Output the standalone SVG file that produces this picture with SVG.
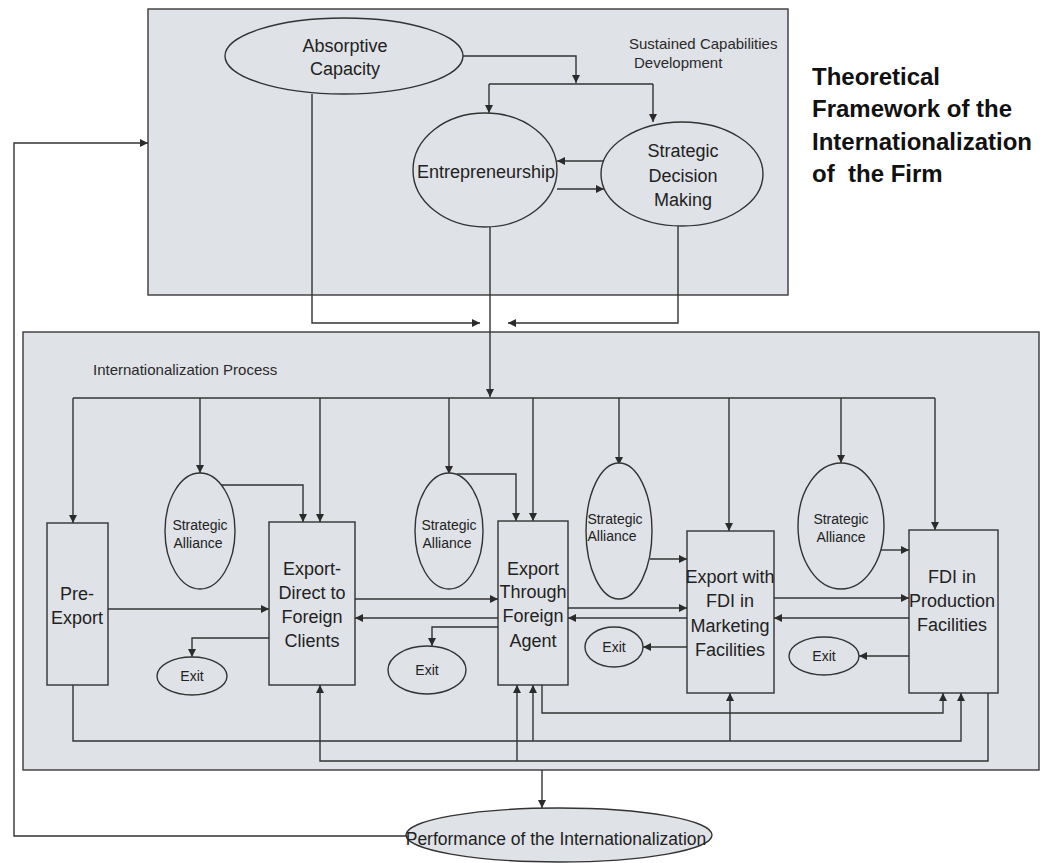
<svg xmlns="http://www.w3.org/2000/svg" width="1044" height="863" viewBox="0 0 1044 863">
<style>
.panel{fill:#dfe2e7;stroke:#3a3a3a;stroke-width:1.4}
.node{fill:#dfe2e7;stroke:#333;stroke-width:1.4}
.c{fill:none;stroke:#333;stroke-width:1.4}
.t{font-family:"Liberation Sans",Arial,sans-serif;fill:#222;text-anchor:middle}
.b{font-size:18px}
.s{font-size:14px}
.l{font-family:"Liberation Sans",Arial,sans-serif;fill:#2a2a2a;font-size:15px}
.title{font-family:"Liberation Sans",Arial,sans-serif;font-weight:bold;font-size:24px;fill:#111}
</style>
<defs>
<marker id="a" viewBox="0 0 10 10" refX="10" refY="5" markerWidth="9" markerHeight="8" orient="auto" markerUnits="userSpaceOnUse">
<path d="M0,0 L10,5 L0,10 z" fill="#2b2b2b"/>
</marker>
</defs>
<rect width="1044" height="863" fill="#ffffff"/>
<g id="panel-top">
<rect class="panel" x="148" y="9" width="640" height="286"/>
<text class="l" x="629" y="49">Sustained Capabilities</text>
<text class="l" x="634" y="68">Development</text>
</g>
<g id="panel-bottom">
<rect class="panel" x="23" y="332" width="1016" height="438"/>
<text class="l" x="93" y="375">Internationalization Process</text>
</g>
<g id="title">
<text class="title" x="812" y="85">Theoretical</text>
<text class="title" x="812" y="117">Framework of the</text>
<text class="title" x="812" y="150">Internationalization</text>
<text class="title" x="812" y="182" xml:space="preserve">of  the Firm</text>
</g>
<g id="connectors">
<path class="c" d="M463,56 H576 V83" marker-end="url(#a)"/>
<path class="c" d="M489,84 H653"/>
<path class="c" d="M489,84 V113" marker-end="url(#a)"/>
<path class="c" d="M653,84 V122" marker-end="url(#a)"/>
<path class="c" d="M604,161 H557" marker-end="url(#a)"/>
<path class="c" d="M557,189 H604" marker-end="url(#a)"/>
<path class="c" d="M312,94 V323 H480" marker-end="url(#a)"/>
<path class="c" d="M678,226 V323 H508" marker-end="url(#a)"/>
<path class="c" d="M490,227 V397" marker-end="url(#a)"/>
<path class="c" d="M73,398 H935"/>
<path class="c" d="M73,398 V523" marker-end="url(#a)"/>
<path class="c" d="M200,398 V473" marker-end="url(#a)"/>
<path class="c" d="M320,398 V522" marker-end="url(#a)"/>
<path class="c" d="M449,398 V474" marker-end="url(#a)"/>
<path class="c" d="M533,398 V521" marker-end="url(#a)"/>
<path class="c" d="M619,398 V465" marker-end="url(#a)"/>
<path class="c" d="M729,398 V531" marker-end="url(#a)"/>
<path class="c" d="M841,398 V463" marker-end="url(#a)"/>
<path class="c" d="M935,398 V530" marker-end="url(#a)"/>
<path class="c" d="M220,485 H303 V522" marker-end="url(#a)"/>
<path class="c" d="M457,474 H516 V521" marker-end="url(#a)"/>
<path class="c" d="M650,559 H687" marker-end="url(#a)"/>
<path class="c" d="M881,550 H909" marker-end="url(#a)"/>
<path class="c" d="M108,609 H269" marker-end="url(#a)"/>
<path class="c" d="M355,599 H498" marker-end="url(#a)"/>
<path class="c" d="M498,618 H355" marker-end="url(#a)"/>
<path class="c" d="M269,638 H192 V657" marker-end="url(#a)"/>
<path class="c" d="M498,627 H432 V646" marker-end="url(#a)"/>
<path class="c" d="M568,608 H687" marker-end="url(#a)"/>
<path class="c" d="M687,618 H568" marker-end="url(#a)"/>
<path class="c" d="M687,647 H643" marker-end="url(#a)"/>
<path class="c" d="M774,598 H909" marker-end="url(#a)"/>
<path class="c" d="M909,618 H774" marker-end="url(#a)"/>
<path class="c" d="M909,656 H859" marker-end="url(#a)"/>
<path class="c" d="M542,685 V713 H943 V693" marker-end="url(#a)"/>
<path class="c" d="M73,685 V741 H961 V693" marker-end="url(#a)"/>
<path class="c" d="M533,741 V685" marker-end="url(#a)"/>
<path class="c" d="M730,741 V693" marker-end="url(#a)"/>
<path class="c" d="M988,693 V761 H320 V685" marker-end="url(#a)"/>
<path class="c" d="M517,761 V685" marker-end="url(#a)"/>
<path class="c" d="M542,770 V808" marker-end="url(#a)"/>
<path class="c" d="M406,836 H14 V143 H148" marker-end="url(#a)"/>
</g>
<g id="absorptive-capacity">
<ellipse class="node" cx="344" cy="56" rx="119" ry="38"/>
<text class="t b" x="345" y="52">Absorptive</text>
<text class="t b" x="345" y="75">Capacity</text>
</g>
<g id="entrepreneurship">
<ellipse class="node" cx="485" cy="170" rx="72" ry="57"/>
<text class="t b" x="486" y="178">Entrepreneurship</text>
</g>
<g id="strategic-decision-making">
<ellipse class="node" cx="682" cy="174" rx="81" ry="52"/>
<text class="t b" x="683" y="157">Strategic</text>
<text class="t b" x="683" y="182">Decision</text>
<text class="t b" x="683" y="206">Making</text>
</g>
<g id="pre-export">
<rect class="node" x="47" y="523" width="61" height="162"/>
<text class="t b" x="77" y="600">Pre-</text>
<text class="t b" x="77" y="624">Export</text>
</g>
<g id="strategic-alliance-1">
<ellipse class="node" cx="200" cy="531" rx="35" ry="58"/>
<text class="t s" x="200" y="530">Strategic</text>
<text class="t s" x="198" y="548">Alliance</text>
</g>
<g id="export-direct">
<rect class="node" x="269" y="522" width="86" height="163"/>
<text class="t b" x="312" y="575">Export-</text>
<text class="t b" x="312" y="599">Direct to</text>
<text class="t b" x="312" y="623">Foreign</text>
<text class="t b" x="312" y="647">Clients</text>
</g>
<g id="exit-1">
<ellipse class="node" cx="192" cy="676" rx="35" ry="19"/>
<text class="t s" x="192" y="681">Exit</text>
</g>
<g id="strategic-alliance-2">
<ellipse class="node" cx="449" cy="531" rx="34" ry="58"/>
<text class="t s" x="449" y="530">Strategic</text>
<text class="t s" x="447" y="548">Alliance</text>
</g>
<g id="export-through">
<rect class="node" x="498" y="521" width="70" height="164"/>
<text class="t b" x="533" y="575">Export</text>
<text class="t b" x="533" y="598">Through</text>
<text class="t b" x="533" y="622">Foreign</text>
<text class="t b" x="533" y="647">Agent</text>
</g>
<g id="exit-2">
<ellipse class="node" cx="427" cy="670" rx="39" ry="24"/>
<text class="t s" x="427" y="675">Exit</text>
</g>
<g id="strategic-alliance-3">
<ellipse class="node" cx="619" cy="531" rx="33" ry="68"/>
<text class="t s" x="615" y="524">Strategic</text>
<text class="t s" x="612" y="541">Alliance</text>
</g>
<g id="export-fdi-marketing">
<rect class="node" x="687" y="531" width="87" height="162"/>
<text class="t b" x="730" y="583">Export with</text>
<text class="t b" x="730" y="607">FDI in</text>
<text class="t b" x="730" y="632">Marketing</text>
<text class="t b" x="730" y="656">Facilities</text>
</g>
<g id="exit-3">
<ellipse class="node" cx="614" cy="647" rx="29" ry="20"/>
<text class="t s" x="614" y="652">Exit</text>
</g>
<g id="strategic-alliance-4">
<ellipse class="node" cx="841" cy="526" rx="43" ry="63"/>
<text class="t s" x="841" y="524">Strategic</text>
<text class="t s" x="841" y="542">Alliance</text>
</g>
<g id="fdi-production">
<rect class="node" x="909" y="530" width="89" height="163"/>
<text class="t b" x="952" y="583">FDI in</text>
<text class="t b" x="952" y="607">Production</text>
<text class="t b" x="952" y="631">Facilities</text>
</g>
<g id="exit-4">
<ellipse class="node" cx="824" cy="656" rx="35" ry="19"/>
<text class="t s" x="824" y="661">Exit</text>
</g>
<g id="performance">
<ellipse class="node" cx="559" cy="835" rx="153" ry="27"/>
<text class="t" x="556" y="845" font-size="17.5">Performance of the Internationalization</text>
</g>
</svg>
